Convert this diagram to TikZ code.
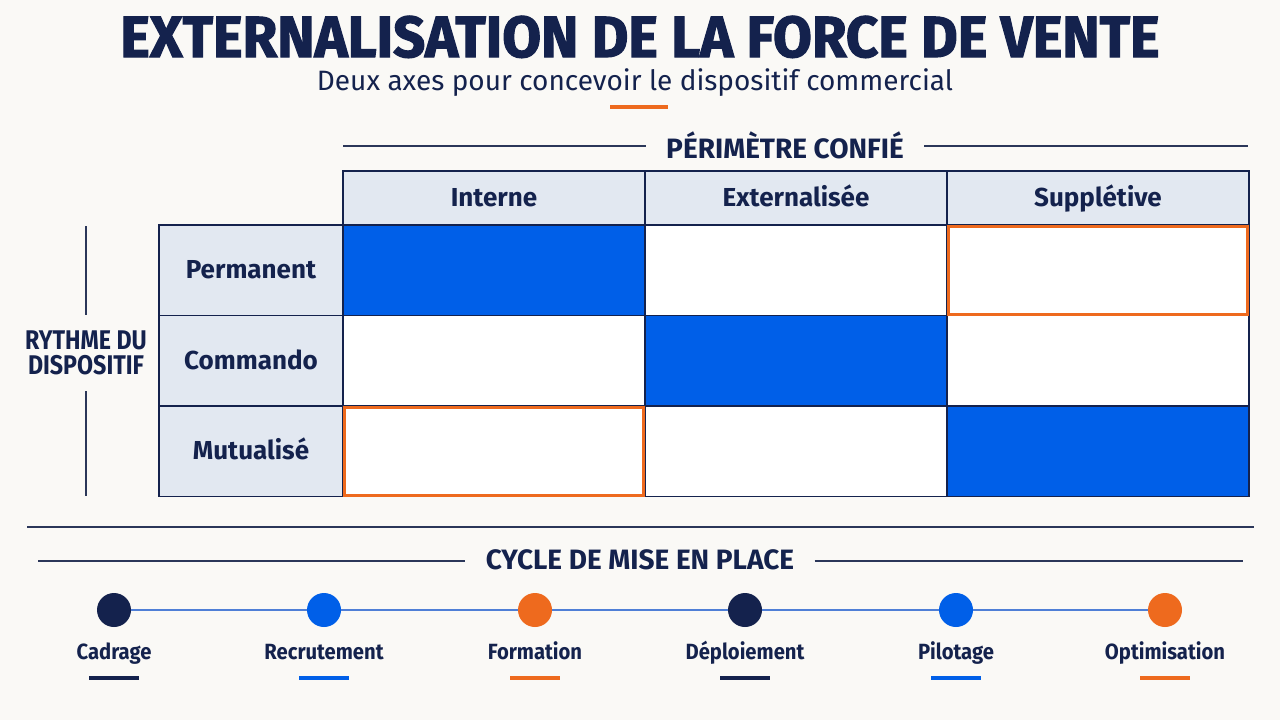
\documentclass[tikz,border=0pt]{standalone}
\usepackage{fontspec}
\setmainfont{Fira Sans}
\newfontfamily\condfont[FakeStretch=0.86]{Fira Sans}
\newfontfamily\labelfont[FakeStretch=0.92]{Fira Sans}
\newfontfamily\titlefont[FakeStretch=0.97, FakeBold=2]{Fira Sans}

\begin{document}
\begin{tikzpicture}[x=0.5pt, y=-0.5pt,
    every node/.style={text=navyColour, inner sep=0pt},
    titletext/.style={anchor=base, font=\titlefont\bfseries\fontsize{29}{32}\selectfont},
    subtitletext/.style={anchor=base, font=\fontsize{14}{17}\selectfont},
    section/.style={inner xsep=10pt, font=\bfseries\fontsize{14}{16}\selectfont},
    ruleline/.style={draw=ruleColour, line width=0.7pt},
    headcell/.style={draw=navyColour, line width=0.6pt, fill=headColour,
        minimum width=151pt, minimum height=27pt, text height=11pt, text depth=2.5pt,
        font=\bfseries\fontsize{13}{16}\selectfont},
    rowcell/.style={draw=navyColour, line width=0.6pt, fill=headColour,
        minimum width=92pt, minimum height=45.25pt, text height=11pt, text depth=2.5pt,
        font=\bfseries\fontsize{13}{16}\selectfont},
    cell/.style={draw=navyColour, line width=0.6pt,
        minimum width=151pt, minimum height=45.25pt},
    orangeframe/.style={draw=orangeColour, line width=1.5pt},
    dot/.style={circle, minimum size=17pt},
    steplabel/.style={anchor=base, font=\labelfont\bfseries\fontsize{11}{13}\selectfont},
    stepbar/.style={minimum width=25pt, minimum height=1.6pt},
    timeline/.style={draw=lineColour, line width=1pt}]

    % Define colours
    \definecolor{bgColour}{HTML}{FAF9F6}
    \definecolor{navyColour}{HTML}{14224D}
    \definecolor{ruleColour}{HTML}{2B3759}
    \definecolor{blueColour}{HTML}{005FE8}
    \definecolor{orangeColour}{HTML}{EE6A1E}
    \definecolor{headColour}{HTML}{E2E8F1}
    \definecolor{lineColour}{HTML}{4F7FD6}

    % Background
    \fill[bgColour] (0,0) rectangle (1280,720);

    % Title block
    \node[titletext] (title) at (640,57) {EXTERNALISATION DE LA FORCE DE VENTE};
    \node[subtitletext] (subtitle) at (635,90) {Deux axes pour concevoir le dispositif commercial};
    \node[fill=orangeColour, minimum width=29pt, minimum height=2pt] (accent) at (639,107) {};

    % Column axis heading
    \node[section] (perimetre) at (785,145) {PÉRIMÈTRE CONFIÉ};
    \coordinate (perimetre-left) at (343,146);
    \coordinate (perimetre-right) at (1248,146);
    \draw[ruleline] (perimetre-left) -- (perimetre-left -| perimetre.west);
    \draw[ruleline] (perimetre.east |- perimetre-right) -- (perimetre-right);

    % Column headers
    \foreach \c/\x/\txt in {1/494/Interne, 2/796/Externalisée, 3/1098/Supplétive}
        \node[headcell] (head-\c) at (\x,198) {\txt};

    % Row headers
    \foreach \r/\y/\txt in {1/270.25/Permanent, 2/360.75/Commando, 3/451.25/Mutualisé}
        \node[rowcell] (row-\r) at (251,\y) {\txt};

    % Cells, blue on the diagonal
    \foreach \r/\y in {1/270.25, 2/360.75, 3/451.25}
        \foreach \c/\x in {1/494, 2/796, 3/1098} {
            \ifnum\r=\c \def\cellFill{blueColour}\else\def\cellFill{white}\fi
            \node[cell, fill=\cellFill] (cell-\r-\c) at (\x,\y) {};
        }

    % Orange frames
    \foreach \r/\c in {1/3, 3/1}
        \draw[orangeframe] ([shift={(2,2)}]cell-\r-\c.north west) rectangle ([shift={(-2,-2)}]cell-\r-\c.south east);

    % Row axis heading
    \node[inner ysep=8pt, align=center, font=\condfont\bfseries\fontsize{13.5}{12.5}\selectfont] (rythme) at (86,353) {RYTHME DU\\DISPOSITIF};
    \coordinate (rythme-top) at (86,226);
    \coordinate (rythme-bottom) at (86,496);
    \draw[ruleline] (rythme-top) -- (rythme.north);
    \draw[ruleline] (rythme.south) -- (rythme-bottom);

    % Divider
    \coordinate (divider-left) at (27,527);
    \coordinate (divider-right) at (1254,527);
    \draw[ruleline, line width=0.9pt] (divider-left) -- (divider-right);

    % Cycle heading
    \node[section] (cycle) at (640,560) {CYCLE DE MISE EN PLACE};
    \coordinate (cycle-left) at (38,561);
    \coordinate (cycle-right) at (1243,561);
    \draw[ruleline] (cycle-left) -- (cycle-left -| cycle.west);
    \draw[ruleline] (cycle.east |- cycle-right) -- (cycle-right);

    % Cycle steps
    \foreach \i/\x/\col/\txt in {1/114/navyColour/Cadrage, 2/324/blueColour/Recrutement,
            3/535/orangeColour/Formation, 4/745/navyColour/Déploiement,
            5/956/blueColour/Pilotage, 6/1165/orangeColour/Optimisation} {
        \node[dot, fill=\col] (dot-\i) at (\x,610) {};
        \node[steplabel] (label-\i) at (\x,659) {\txt};
        \node[stepbar, fill=\col] (bar-\i) at (\x,678) {};
    }
    \foreach \i [evaluate=\i as \j using int(\i+1)] in {1,...,5}
        \draw[timeline] (dot-\i) -- (dot-\j);

\end{tikzpicture}
\end{document}
